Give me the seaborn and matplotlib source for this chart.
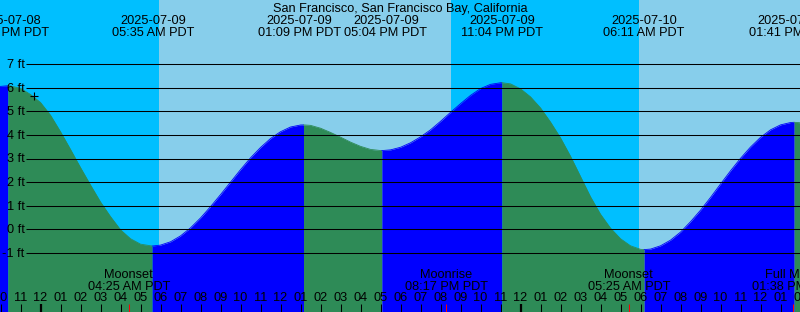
import matplotlib
matplotlib.use("Agg")
import matplotlib.pyplot as plt
import matplotlib.transforms as mtransforms
import numpy as np
import seaborn as sns

# ---------------- data (hours since 2025-07-09 00:00 PDT) ----------------
TITLE = "San Francisco, San Francisco Bay, California"

tide_hours = [-2.05, -1.633, -1.5, -1, -0.5, 0, 0.5, 1, 1.5, 2, 2.5, 3, 3.5, 4,
              4.5, 5, 5.583, 6, 6.5, 7, 7.5, 8, 8.5, 9, 9.5, 10, 10.5, 11,
              11.5, 12, 12.5, 13, 13.15, 13.5, 14, 14.5, 15, 15.5, 16, 16.5,
              17, 17.067, 17.5, 18, 18.5, 19, 19.5, 20, 20.5, 21, 21.5, 22,
              22.5, 23, 23.067, 23.5, 24, 24.5, 25, 25.5, 26, 26.5, 27, 27.5,
              28, 28.5, 29, 29.5, 30, 30.183, 30.5, 31, 31.5, 32, 32.5, 33,
              33.5, 34, 34.5, 35, 35.5, 36, 36.5, 37, 37.5, 37.683, 38]
tide_ft = [6.06, 6.09, 6.08, 5.98, 5.72, 5.38, 4.84, 4.14, 3.39, 2.62, 1.88,
           1.16, 0.54, -0.02, -0.40, -0.63, -0.71, -0.67, -0.53, -0.28, 0.06,
           0.48, 0.96, 1.47, 2.00, 2.53, 3.03, 3.47, 3.85, 4.14, 4.34, 4.425,
           4.43, 4.41, 4.29, 4.11, 3.91, 3.70, 3.52, 3.39, 3.342, 3.34, 3.37,
           3.48, 3.67, 3.92, 4.22, 4.58, 4.96, 5.33, 5.68, 5.97, 6.15, 6.217,
           6.22, 6.17, 5.96, 5.62, 5.15, 4.55, 3.88, 3.10, 2.24, 1.38, 0.64,
           0.05, -0.40, -0.70, -0.85, -0.86, -0.84, -0.70, -0.46, -0.12, 0.32,
           0.81, 1.35, 1.92, 2.48, 3.01, 3.49, 3.90, 4.22, 4.43, 4.53, 4.54,
           4.52]

extreme_hours = [-1.633, 5.583, 13.15, 17.067, 23.067, 30.183, 37.683]
extreme_dates = ["2025-07-08", "2025-07-09", "2025-07-09", "2025-07-09",
                 "2025-07-09", "2025-07-10", "2025-07-10"]
extreme_times = ["10:22 PM PDT", "05:35 AM PDT", "01:09 PM PDT", "05:04 PM PDT",
                 "11:04 PM PDT", "06:11 AM PDT", "01:41 PM PDT"]

moon_hours = [4.417, 20.283, 29.417, 37.633]
moon_names = ["Moonset", "Moonrise", "Moonset", "Full Moon"]
moon_times = ["04:25 AM PDT", "08:17 PM PDT", "05:25 AM PDT", "01:38 PM PDT"]

sun_hours = [5.92, 20.52, 29.92]          # sunrise, sunset, sunrise
now_hour, now_ft = -0.31, 5.64             # "+" mark

grid_ft = [-1, 0, 1, 2, 3, 4, 5, 6, 7]
hour_ticks = list(range(-2, 39))

# ---------------- style ----------------
W, H = 800, 312
PX_PER_H = 20.0
X0 = -40.5 / PX_PER_H
Y0_PX, FT_PX = 229.3, 23.57
NIGHT, DAY = "#00BFFF", "#87CEEB"
RISE, FALL = "#0000FF", "#2E8B57"

sns.set_style("white")
plt.rcParams["font.family"] = ["Liberation Sans", "DejaVu Sans"]
FS = 9.2

fig = plt.figure(figsize=(W / 100, H / 100), dpi=100)
ax = fig.add_axes([0, 0, 1, 1])
xmax = X0 + W / PX_PER_H
ybot = (Y0_PX - H) / FT_PX
ytop = Y0_PX / FT_PX
ax.set_xlim(X0, xmax)
ax.set_ylim(ybot, ytop)


def yfrac(px):
    return 1 - px / H


# background day / night
edges = [X0] + sun_hours + [xmax]
for i in range(len(edges) - 1):
    ax.axvspan(edges[i], edges[i + 1], color=NIGHT if i % 2 == 0 else DAY,
               lw=0, zorder=0)

# tide fill, rising blue / falling green
t = np.array(tide_hours)
h = np.array(tide_ft)
bounds = [X0 - 0.1] + extreme_hours + [xmax + 0.1]
for a, b in zip(bounds[:-1], bounds[1:]):
    m = (t >= a) & (t <= b)
    if m.sum() < 2:
        continue
    ts, hs = t[m], h[m]
    col = RISE if hs[-1] > hs[0] else FALL
    ax.fill_between(ts, hs, ybot, color=col, lw=0, zorder=1)
    sns.lineplot(x=ts, y=hs, ax=ax, color=col, lw=0.6, sort=False,
                 estimator=None, zorder=1.5)

trans = mtransforms.blended_transform_factory(ax.transData, ax.transAxes)

# grid lines and labels
gx0 = X0 + 26 / PX_PER_H
ax.hlines(grid_ft, gx0, xmax, colors="black", lw=0.75, zorder=3)
for g in grid_ft:
    ypx = Y0_PX - FT_PX * g
    ax.text(X0 + 24.5 / PX_PER_H, yfrac(ypx + 3.8), f"{g} ft", ha="right",
            va="baseline", fontsize=FS, color="black", zorder=4,
            transform=trans)

# now mark
ax.plot([now_hour], [now_ft], marker="+", ms=6, mew=0.8, color="black",
        zorder=5)

# title
ax.text(0.5, yfrac(12), TITLE, transform=ax.transAxes, ha="center",
        va="baseline", fontsize=FS, color="black", zorder=6)

# extreme labels (small nudges to avoid overlap, in px)
nudge_px = [0, 1, -4, 4, 0, 0, -3.5]
for x, d, tm, n in zip(extreme_hours, extreme_dates, extreme_times, nudge_px):
    xx = x + n / PX_PER_H
    ax.text(xx, yfrac(24.3), d, transform=trans, ha="center", va="baseline",
            fontsize=FS, color="black", zorder=6)
    ax.text(xx, yfrac(36), tm, transform=trans, ha="center", va="baseline",
            fontsize=FS, color="black", zorder=6)

# moon labels
for x, nm, tm in zip(moon_hours, moon_names, moon_times):
    ax.text(x, yfrac(277.8), nm, transform=trans, ha="center", va="baseline",
            fontsize=FS, color="black", zorder=6)
    ax.text(x, yfrac(289.5), tm, transform=trans, ha="center", va="baseline",
            fontsize=FS, color="black", zorder=6)

# hour ticks and labels
for hr in hour_ticks:
    lab = f"{(hr % 12) or 12:02d}"
    ax.text(hr, yfrac(301.3), lab, transform=trans, ha="center",
            va="baseline", fontsize=FS, color="black", zorder=6)
    thick = (hr % 24 == 0)
    ax.vlines(hr, yfrac(312), yfrac(304), transform=trans, colors="black",
              lw=1.6 if thick else 0.75, zorder=6)
for x in moon_hours:
    ax.vlines(x, yfrac(312), yfrac(304), transform=trans, colors="#FF0000",
              lw=0.75, zorder=6)

ax.set_axis_off()
fig.savefig("out.png", dpi=100)
